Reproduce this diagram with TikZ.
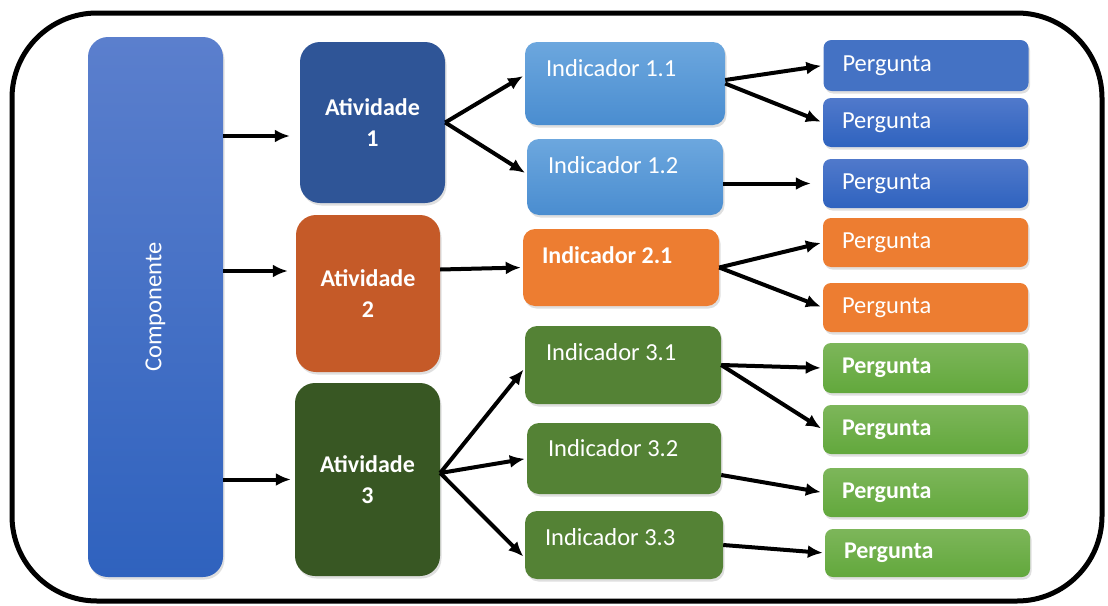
\documentclass[tikz,border=0pt]{standalone}
\usepackage{fontspec}
\setmainfont{Carlito}
\usetikzlibrary{arrows.meta,shadows}

\definecolor{compTop}{HTML}{5B7FCD}
\definecolor{compBot}{HTML}{2F62BE}
\definecolor{ativBlue}{HTML}{2F5597}
\definecolor{ativOrange}{HTML}{C55A28}
\definecolor{ativGreen}{HTML}{385723}
\definecolor{indBlueTop}{HTML}{6CA7DE}
\definecolor{indBlueBot}{HTML}{4A8DD0}
\definecolor{indOrange}{HTML}{ED7D31}
\definecolor{indGreen}{HTML}{548235}
\definecolor{pergBlue}{HTML}{4472C4}
\definecolor{pergBlueTop}{HTML}{5079CB}
\definecolor{pergBlueBot}{HTML}{2F63BF}
\definecolor{pergOrange}{HTML}{ED7D31}
\definecolor{pergGreenTop}{HTML}{7DB65A}
\definecolor{pergGreenBot}{HTML}{62A83C}

\begin{document}
\begin{tikzpicture}[x=1pt,y=-1pt,
  box/.style={rectangle, inner sep=0pt, text=white,
    drop shadow={opacity=0.25, shadow xshift=1.5pt, shadow yshift=-2.5pt}},
  sz/.style 2 args={minimum width=#1pt, minimum height=#2pt},
  bigtext/.style={font=\fontsize{24.5}{31}\selectfont},
  ativ/.style={box, rounded corners=20pt, align=center,
    font=\fontsize{24}{31}\selectfont\bfseries},
  ind/.style={box, rounded corners=12pt},
  itext/.style={anchor=west, inner sep=0pt, text=white, bigtext},
  perg/.style={box, rounded corners=8pt, inner xsep=19pt, text width=167pt,
    align=left, bigtext},
  arr/.style={line width=4pt, -{Latex[length=15pt,width=13pt]}, shorten >=2pt}
]
\useasboundingbox (0,0) rectangle (1108,605);

% outer frame
\draw[line width=5pt, rounded corners=85pt] (12,13) rectangle (1102,601);

% component
\node[box, sz={135}{540}, rounded corners=20pt, top color=compTop,
  bottom color=compBot] (comp) at (155.5,307) {};
\node[rotate=90, text=white, bigtext, inner sep=0pt] (comptext) at (comp.center) {Componente};

% activities
\node[ativ, sz={145}{161}, fill=ativBlue] (a1) at (372.5,122.5) {Atividade\\1};
\node[ativ, sz={144}{157}, fill=ativOrange] (a2) at (368,293.5) {Atividade\\2};
\node[ativ, sz={145}{193}, fill=ativGreen] (a3) at (367.5,479.5) {Atividade\\3};

% indicators
\node[ind, sz={200}{83}, top color=indBlueTop, bottom color=indBlueBot] (i11) at (625,83.5) {};
\node[ind, sz={196}{76}, top color=indBlueTop, bottom color=indBlueBot] (i12) at (625,177) {};
\node[ind, sz={196}{77}, fill=indOrange] (i21) at (621,267.5) {};
\node[ind, sz={196}{78}, fill=indGreen] (i31) at (623,365) {};
\node[ind, sz={194}{71}, fill=indGreen] (i32) at (624,458.5) {};
\node[ind, sz={198}{68}, fill=indGreen] (i33) at (624,545) {};

\node[itext] (t11) at ([xshift=21pt,yshift=-26pt]i11.north west) {Indicador 1.1};
\node[itext] (t12) at ([xshift=21pt,yshift=-26pt]i12.north west) {Indicador 1.2};
\node[itext, font=\fontsize{24}{31}\selectfont\bfseries] (t21) at ([xshift=19pt,yshift=-26pt]i21.north west) {Indicador 2.1};
\node[itext] (t31) at ([xshift=21pt,yshift=-26pt]i31.north west) {Indicador 3.1};
\node[itext] (t32) at ([xshift=21pt,yshift=-25pt]i32.north west) {Indicador 3.2};
\node[itext] (t33) at ([xshift=20pt,yshift=-26pt]i33.north west) {Indicador 3.3};

% questions
\node[perg, minimum height=51pt, fill=pergBlue] (p1) at (926,65.5) {Pergunta};
\node[perg, minimum height=49pt, top color=pergBlueTop, bottom color=pergBlueBot] (p2) at (925.5,122.5) {Pergunta};
\node[perg, minimum height=49pt, top color=pergBlueTop, bottom color=pergBlueBot] (p3) at (925.5,183.5) {Pergunta};
\node[perg, minimum height=49pt, fill=pergOrange] (p4) at (925.5,242.5) {Pergunta};
\node[perg, minimum height=49pt, fill=pergOrange] (p5) at (925.5,307.5) {Pergunta};
\node[perg, minimum height=50pt, top color=pergGreenTop, bottom color=pergGreenBot,
  font=\fontsize{24}{31}\selectfont\bfseries] (p6) at (925.5,368) {Pergunta};
\node[perg, minimum height=49pt, top color=pergGreenTop, bottom color=pergGreenBot,
  font=\fontsize{24}{31}\selectfont\bfseries] (p7) at (925.5,429.5) {Pergunta};
\node[perg, minimum height=49pt, top color=pergGreenTop, bottom color=pergGreenBot,
  font=\fontsize{24}{31}\selectfont\bfseries] (p8) at (925.5,492.5) {Pergunta};
\node[perg, minimum height=48pt, top color=pergGreenTop, bottom color=pergGreenBot,
  font=\fontsize{24}{31}\selectfont\bfseries] (p9) at (927.5,553) {Pergunta};

% component to activities
\coordinate (e1) at ([xshift=-8pt,yshift=-13.5pt]a1.west);
\coordinate (e2) at ([xshift=-6pt,yshift=22.5pt]a2.west);
\coordinate (e3) at ([xshift=-2pt]a3.west);
\draw[arr] (comp.east |- e1) -- (e1);
\draw[arr] (comp.east |- e2) -- (e2);
\draw[arr] (comp.east |- e3) -- (e3);

% activities to indicators
\draw[arr] (a1.east) -- ([yshift=8.5pt]i11.west);
\draw[arr] (a1.east) -- ([yshift=3pt]i12.west);
\draw[arr] ([yshift=24pt]a2.east) -- (i21.west);
\draw[arr] ([yshift=6.5pt]a3.east) -- ([yshift=-3pt]i31.west);
\draw[arr] ([yshift=6.5pt]a3.east) -- (i32.west);
\draw[arr] ([yshift=6.5pt]a3.east) -- ([yshift=-13pt]i33.west);

% indicators to questions
\draw[arr] ([yshift=3.5pt]i11.east) -- (p1.west);
\draw[arr] (i11.east) -- (p2.west);
\draw[arr] ([yshift=-6.5pt]i12.east) -- ([xshift=-10pt]p3.west);
\draw[arr] (i21.east) -- (p4.west);
\draw[arr] (i21.east) -- (p5.west);
\draw[arr] (i31.east) -- (p6.west);
\draw[arr] (i31.east) -- (p7.west);
\draw[arr] ([yshift=-16.5pt]i32.east) -- (p8.west);
\draw[arr] (i33.east) -- (p9.west);
\end{tikzpicture}
\end{document}
